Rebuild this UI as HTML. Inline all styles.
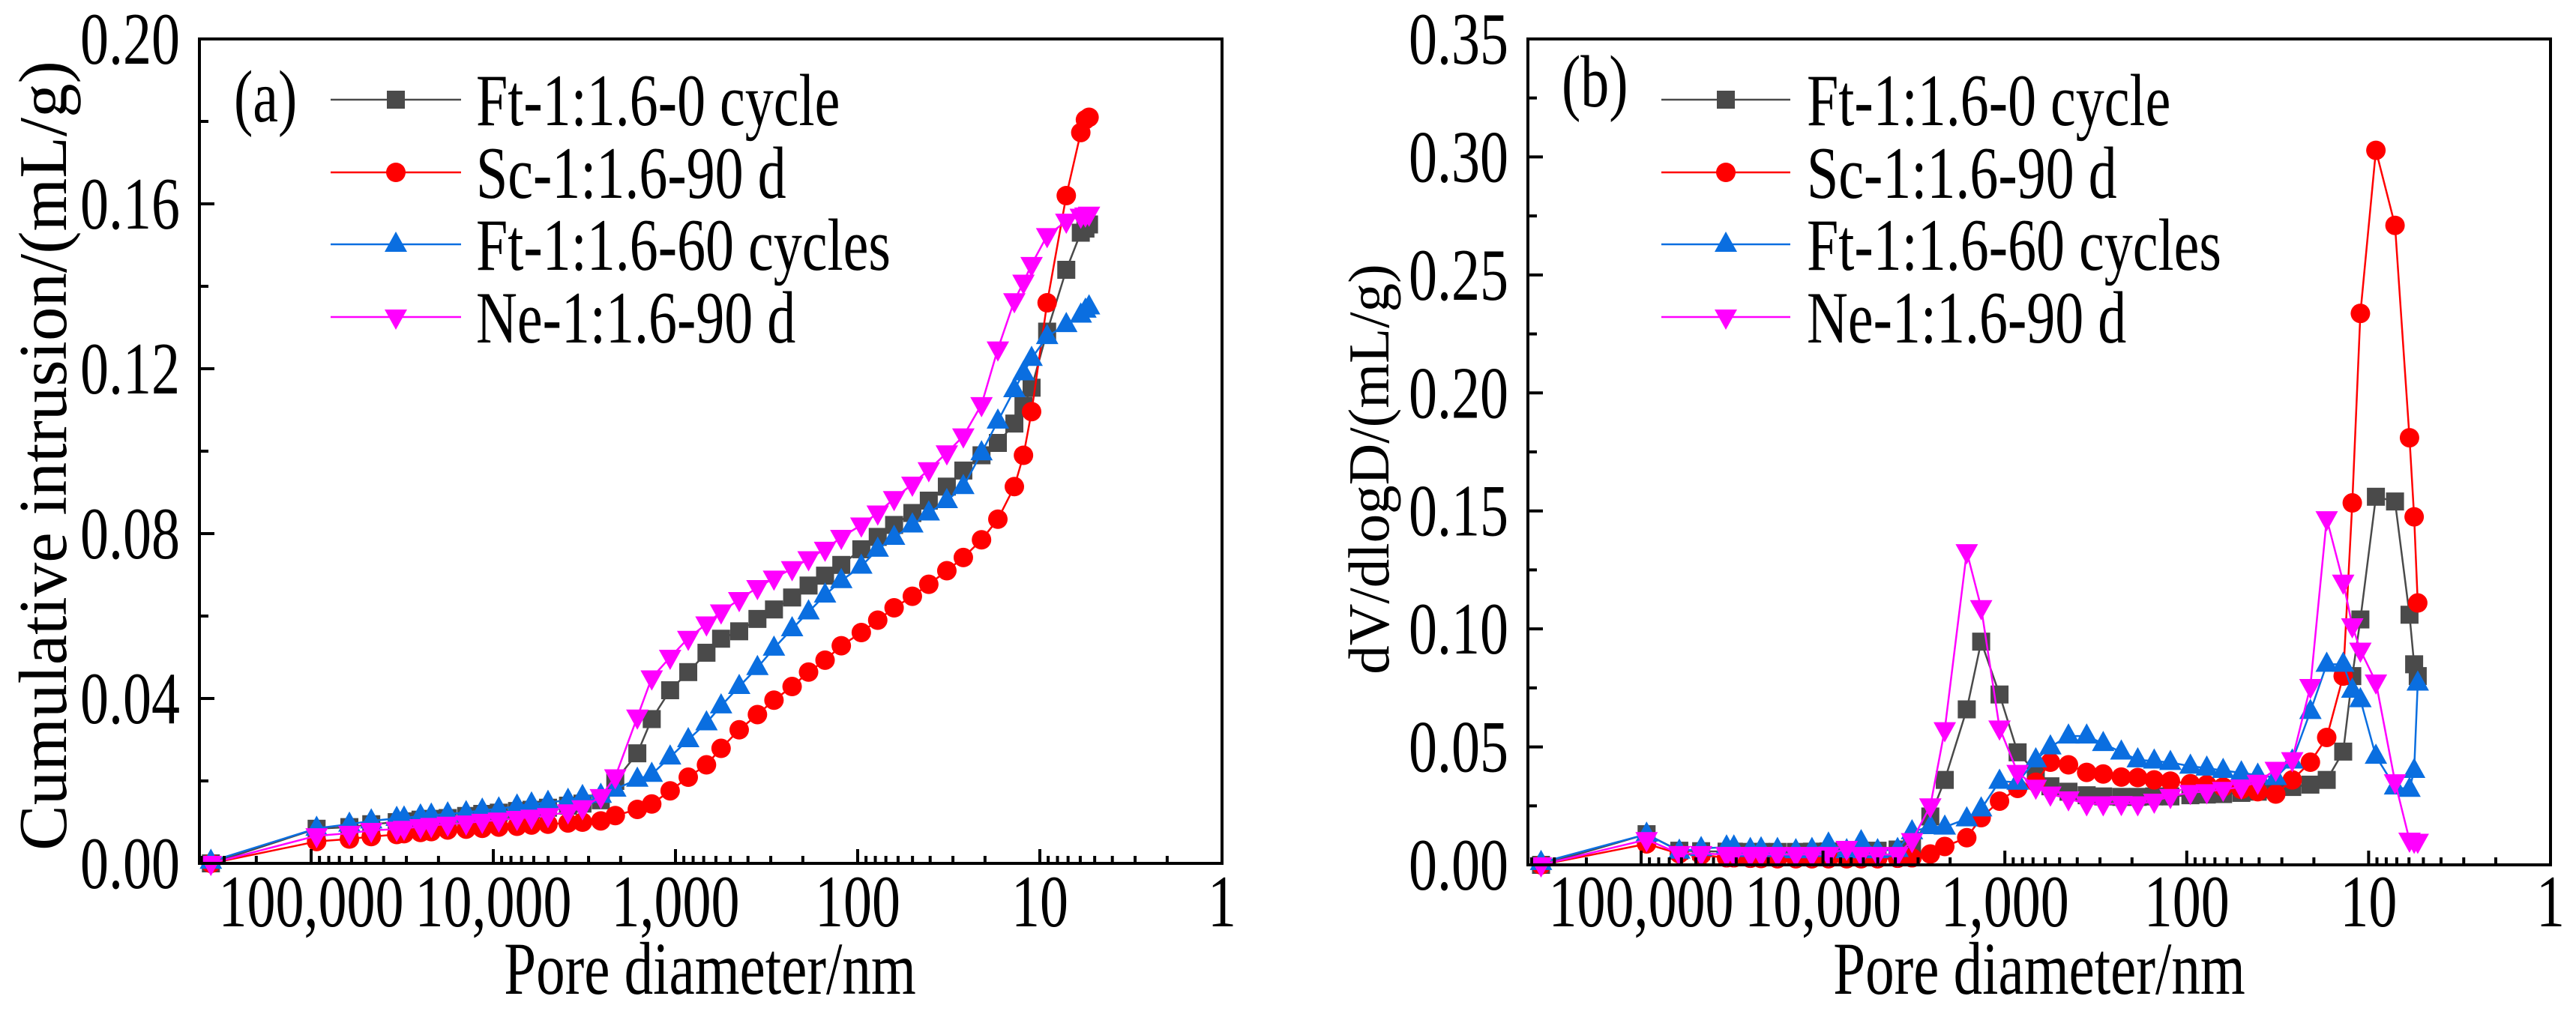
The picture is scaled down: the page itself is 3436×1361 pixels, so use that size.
<!DOCTYPE html>
<html><head><meta charset="utf-8">
<style>
html,body{margin:0;padding:0;background:#fff;}
svg{display:block;font-family:"Liberation Serif","Times New Roman",serif;}
</style></head>
<body>
<svg id="chart" width="3436" height="1361" viewBox="0 0 3436 1361" xmlns="http://www.w3.org/2000/svg">
<rect x="0" y="0" width="3436" height="1361" fill="#fff"/>
</svg>
<script>
// Shared pore diameter grid (nm)
const diameters = [355000,93300,61660,46770,33900,30900,25100,21900,17800,14100,11500,9330,7410,6170,5010,3890,3240,2570,2140,1620,1350,1070,851,676,562,447,355,288,229,186,151,123,95.5,77.6,63.1,50.1,40.7,32.4,26.3,20.9,17.0,13.8,12.3,11.1,9.12,7.16,5.96,5.62,5.37];
const seriesNames = ["Ft-1:1.6-0 cycle","Sc-1:1.6-90 d","Ft-1:1.6-60 cycles","Ne-1:1.6-90 d"];
// Panel (a) cumulative intrusion (mL/g)
const cumFt0 = [0,.0084,.0088,.0095,.010,.0102,.0106,.0108,.011,.0115,.012,.0123,.0127,.013,.0135,.014,.0145,.0153,.020,.0267,.035,.042,.0464,.0511,.0545,.0563,.0593,.0616,.0645,.0674,.0698,.0724,.0762,.0792,.0821,.085,.088,.0914,.0953,.099,.102,.1067,.111,.1154,.129,.144,.153,.154,.155];
const cumSc90 = [0,.0053,.0059,.0065,.007,.0072,.0075,.0077,.0081,.0083,.0085,.0088,.009,.0093,.0095,.0098,.010,.0103,.0116,.0131,.0144,.0176,.0209,.0239,.0279,.0324,.0361,.0396,.0429,.0464,.0493,.0528,.056,.059,.062,.0648,.0677,.071,.0742,.0785,.0835,.0914,.099,.1096,.136,.162,.1773,.1804,.181];
const cumFt60 = [.0005,.0085,.0095,.0103,.0109,.011,.0115,.0117,.012,.0123,.0129,.0132,.0139,.0144,.0148,.0153,.0162,.0165,.018,.0204,.0216,.0258,.030,.0341,.0382,.0429,.0475,.0522,.0569,.061,.0651,.0686,.0721,.0762,.0791,.0821,.085,.088,.0914,.0996,.1073,.1149,.119,.1225,.1278,.1307,.133,.1342,.135];
const cumNe90 = [0,.0067,.0073,.008,.0083,.0085,.0089,.0092,.0095,.0098,.0102,.0105,.0109,.0112,.0116,.0125,.0135,.0162,.021,.0355,.045,.050,.0546,.0581,.061,.064,.0669,.0692,.0715,.0739,.0762,.0791,.0821,.085,.0885,.092,.0955,.0996,.1037,.1113,.1248,.1365,.141,.1453,.1523,.1558,.157,.1573,.1575];
// Panel (b) dV/dlogD (mL/g)
const difFt0 = [0,.013,.006,.0058,.0056,.0056,.0055,.0055,.0055,.0055,.0056,.0057,.0058,.006,.006,.0065,.008,.0205,.036,.0659,.0946,.0722,.0477,.0392,.0333,.031,.0295,.029,.0288,.0288,.029,.029,.0295,.0298,.030,.0305,.031,.032,.033,.034,.036,.048,.080,.104,.156,.154,.106,.085,.080];
const difSc90 = [0,.0089,.0047,.0042,.003,.003,.0028,.0027,.0026,.0026,.0026,.0026,.0026,.0026,.0026,.0028,.003,.0046,.0078,.0115,.020,.027,.0324,.035,.0435,.0424,.0392,.0385,.0372,.037,.036,.0355,.0344,.034,.033,.032,.031,.030,.036,.0435,.054,.080,.1534,.2337,.3028,.271,.181,.1475,.111];
const difFt60 = [.001,.013,.0058,.0069,.0076,.0076,.0065,.0068,.0065,.006,.0065,.0088,.006,.0098,.006,.0065,.014,.0162,.016,.0195,.0237,.0354,.035,.0445,.050,.0546,.0546,.0514,.0478,.0445,.044,.0434,.0418,.041,.040,.039,.038,.037,.044,.065,.085,.085,.074,.070,.046,.033,.032,.040,.077];
const difNe90 = [0,.0107,.0048,.0048,.0044,.0044,.0044,.0044,.0044,.0044,.0044,.0044,.007,.0044,.0044,.0044,.0103,.025,.0573,.1327,.109,.058,.0392,.0329,.030,.028,.0259,.0259,.026,.0259,.027,.029,.0307,.031,.032,.033,.035,.0405,.0446,.0756,.1467,.1198,.1013,.091,.0775,.0352,.0105,.010,.010];
const xTickValues = [100000,10000,1000,100,10,1];
const xTickLabels = ["100,000","10,000","1,000","100","10","1"];
const yTicksA = [0,0.04,0.08,0.12,0.16,0.20];
const yTickLabelsA = ["0.00","0.04","0.08","0.12","0.16","0.20"];
const yTicksB = [0,0.05,0.10,0.15,0.20,0.25,0.30,0.35];
const yTickLabelsB = ["0.00","0.05","0.10","0.15","0.20","0.25","0.30","0.35"];

const NS="http://www.w3.org/2000/svg";
const svg=document.getElementById('chart');
const SY=1.3; // vertical stretch of the original figure's text
function mk(tag,attrs,parent){const e=document.createElementNS(NS,tag);for(const k in attrs)e.setAttribute(k,attrs[k]);(parent||svg).appendChild(e);return e;}
function txt(parent,x,y,size,anchor,str){
  const t=mk('text',{x:0,y:0,'font-size':size,'text-anchor':anchor,fill:'#000',transform:`translate(${x},${y}) scale(1,${SY})`},parent);
  t.textContent=str;
  return t;
}

const colors=["#4a4a4a","#ff0000","#0a6ee0","#ff00ff"];
const lineColors=["#4a4a4a","#ff0000","#0a6ee0","#ff00ff"];
const shapes=["square","circle","up","down"];

function marker(g,shape,cx,cy,color){
  let e;
  if(shape==="square") e=mk('rect',{x:cx-12,y:cy-12,width:24,height:24,fill:color},g);
  else if(shape==="circle") e=mk('circle',{cx:cx,cy:cy,r:13,fill:color},g);
  else if(shape==="up") e=mk('polygon',{points:`${cx},${cy-17} ${cx-15},${cy+10} ${cx+15},${cy+10}`,fill:color},g);
  else e=mk('polygon',{points:`${cx},${cy+17} ${cx-15},${cy-10} ${cx+15},${cy-10}`,fill:color},g);
  return e;
}

function panel(p){
  const xs=d=>p.xOne - p.dec*Math.log10(d);
  const ys=v=>p.bottom - (v/p.yMax)*(p.bottom-p.top);
  const g=mk('g',{});
  
  
  p.series.forEach((vals,si)=>{
    const sg=mk('g',{},g);
    
    
    const pts=diameters.map((d,i)=>xs(d).toFixed(1)+','+ys(vals[i]).toFixed(1)).join(' ');
    const pl=mk('polyline',{points:pts,fill:'none',stroke:lineColors[si],'stroke-width':2.5,'stroke-linejoin':'round'},sg);
    
    
    diameters.forEach((d,i)=>{
      const m=marker(sg,shapes[si],xs(d),ys(vals[i]),colors[si]);
      
      
    });
  });
  const box=mk('rect',{x:p.left,y:p.top,width:p.xOne-p.left,height:p.bottom-p.top,fill:'none',stroke:'#000','stroke-width':4},g);
  
  
  const xg=mk('g',{},g);
  
  
  for(let e=0;e<6;e++){
    for(let m=1;m<10;m++){
      const d=m*Math.pow(10,e);
      const x=xs(d);
      if(x<p.left+2||x>p.xOne)continue;
      const len=m===1?19:10;
      mk('line',{x1:x,y1:p.bottom,x2:x,y2:p.bottom-len,stroke:'#000','stroke-width':4},xg);
    }
  }
  xTickValues.forEach((d,i)=>{
    const t=txt(xg,xs(d),1236,76,'middle',xTickLabels[i]);
    
    
  });
  const xt=txt(g,p.xTitleX,1326,77,'middle','Pore diameter/nm');
  
  
  const yg=mk('g',{},g);
  
  
  const step=p.yTicks[1]-p.yTicks[0];
  for(let v=0;v<=p.yMax+1e-9;v+=step/2){
    const y=ys(v);
    mk('line',{x1:p.left,y1:y,x2:p.left+(Math.abs((v/step)-Math.round(v/step))<1e-6?20:12),y2:y,stroke:'#000','stroke-width':4},yg);
  }
  p.yTicks.forEach((v,i)=>{
    const t=txt(yg,p.left-26,ys(v)+33,76,'end',p.yLabels[i]);
    
    
  });
  const yt=mk('text',{x:0,y:0,'font-size':p.yTitleSize,'text-anchor':'middle',fill:'#000',transform:`translate(${p.yTitleX},${p.yTitleY}) rotate(-90)`},g);
  yt.textContent=p.yTitle;
  
  
  const pl=txt(g,p.labelX,p.labelY,76,'start',p.label);
  
  
  const lg=mk('g',{},g);
  
  
  const rows=[133,230,326,423];
  seriesNames.forEach((n,i)=>{
    const eg=mk('g',{},lg);
    
    
    mk('line',{x1:p.legX1,y1:rows[i],x2:p.legX2,y2:rows[i],stroke:lineColors[i],'stroke-width':2.5},eg);
    marker(eg,shapes[i],(p.legX1+p.legX2)/2,rows[i],colors[i]);
    txt(eg,p.legTextX,rows[i]+34,76,'start',n);
  });
}

panel({key:'a',name:'panel-a-cumulative-intrusion',left:266,xOne:1630,dec:243,top:52,bottom:1152,yMax:0.20,
  yTicks:yTicksA,yLabels:yTickLabelsA,yTitle:'Cumulative intrusion/(mL/g)',yTitleX:88,yTitleY:608,yTitleSize:91,xTitleX:947,
  label:'(a)',labelX:312,labelY:162,legX1:441,legX2:615,legTextX:635,
  series:[cumFt0,cumSc90,cumFt60,cumNe90]});
panel({key:'b',name:'panel-b-pore-size-distribution',left:2038,xOne:3402,dec:242.6,top:52,bottom:1154,yMax:0.35,
  yTicks:yTicksB,yLabels:yTickLabelsB,yTitle:'dV/dlogD/(mL/g)',yTitleX:1852,yTitleY:626,yTitleSize:77,xTitleX:2720,
  label:'(b)',labelX:2083,labelY:142,legX1:2216,legX2:2388,legTextX:2410,
  series:[difFt0,difSc90,difFt60,difNe90]});
</script>
</body></html>
